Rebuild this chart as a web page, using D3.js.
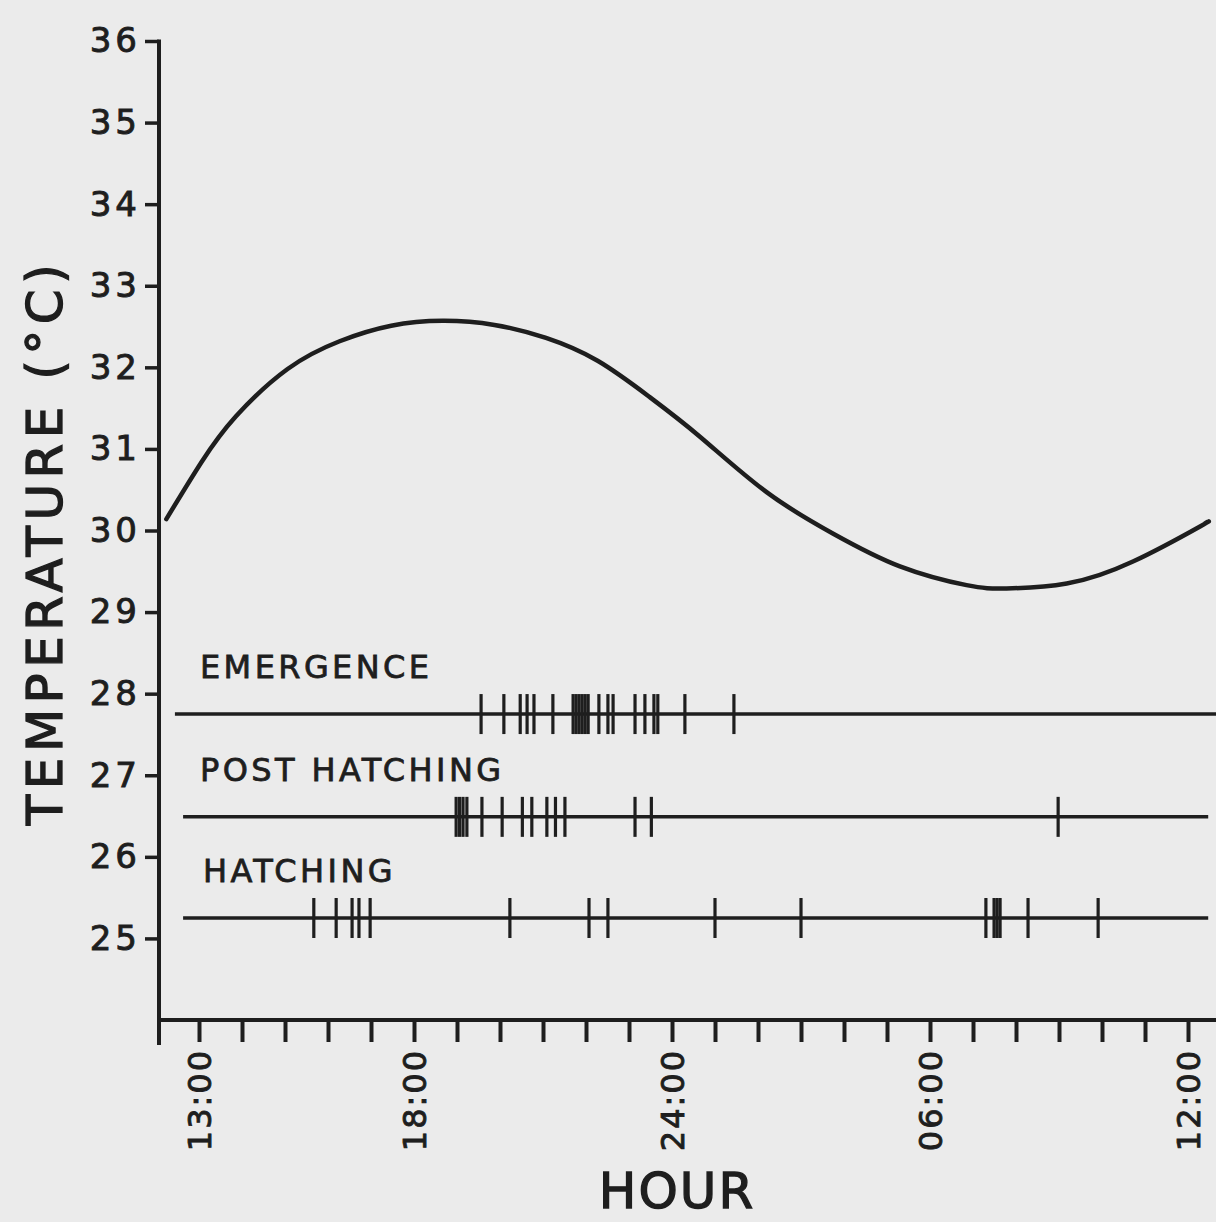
<!DOCTYPE html>
<html>
<head>
<meta charset="utf-8">
<script src="https://cdn.jsdelivr.net/npm/d3@7"></script>
<style>
  html, body { margin: 0; padding: 0; background: #ebebeb; }
  svg { display: block; }
  text { font-family: "DejaVu Sans", sans-serif; fill: #1e1e1e; stroke: #1e1e1e; }
</style>
</head>
<body>
<div id="chart"></div>
<script>
// temperature curve (hours counted from noon, 24 = midnight)
const curveHours = [12.24, 13.06, 13.86, 15.06, 16.27, 17.47, 18.67, 19.87, 21.07, 22.27,
  23.47, 24.65, 26.20, 27.75, 29.30, 30.85, 31.78, 33.18, 34.72, 36.28, 36.40];
const curveTemps = [30.14, 30.84, 31.40, 31.98, 32.32, 32.51, 32.57, 32.52, 32.36, 32.08,
  31.64, 31.15, 30.47, 29.96, 29.56, 29.33, 29.29, 29.35, 29.62, 30.05, 30.09];

// event rows
const rowNames = ["EMERGENCE", "POST HATCHING", "HATCHING"];
const rowLevels = [27.75, 26.49, 25.25];
const rowStart = [12.44, 12.63, 12.63];
const rowEnd = [36.7, 36.47, 36.47];
const emergenceHours = [19.56, 20.09, 20.47, 20.63, 20.79, 21.23, 21.70, 21.77, 21.84, 21.91,
  21.98, 22.05, 22.30, 22.51, 22.63, 23.14, 23.37, 23.58, 23.67, 24.30, 25.44];
const postHatchingHours = [18.98, 19.06, 19.14, 19.23, 19.58, 20.05, 20.52, 20.74, 21.09,
  21.29, 21.51, 23.14, 23.52, 32.98];
const hatchingHours = [15.67, 16.19, 16.56, 16.72, 16.98, 20.23, 22.07, 22.51, 25.0, 27.0,
  31.30, 31.49, 31.56, 31.63, 32.28, 33.91];
const rowEvents = [emergenceHours, postHatchingHours, hatchingHours];

// axis ticks
const yTicks = d3.range(25, 37);
const xTicks = d3.range(13, 37);
const labelHours = [13, 18, 24, 30, 36];
const labelTexts = ["13:00", "18:00", "24:00", "06:00", "12:00"];

const width = 1216, height = 1222;
const axisX = 159, axisBottom = 1045;
const ink = "#1e1e1e";

var svg = d3.select("#chart").append("svg")
  .attr("width", width)
  .attr("height", height);

var x = d3.scaleLinear().domain([13, 36]).range([199, 1188]);
var y = d3.scaleLinear().domain([24, 36]).range([1020, 41]);

// y axis
var yAxis = svg.append("g")
  .attr("transform", "translate(" + axisX + ",0)")
  .call(d3.axisLeft(y).tickValues(yTicks).tickSize(14).tickPadding(4).tickSizeOuter(0));
yAxis.select(".domain").remove();
yAxis.selectAll(".tick line").attr("stroke", ink).attr("stroke-width", 3.5);
yAxis.selectAll(".tick text")
  .style("font-size", "34px")
  .style("letter-spacing", "4px")
  .attr("stroke-width", 0.9)
  .attr("fill", ink);
svg.append("line")
  .attr("x1", axisX).attr("x2", axisX)
  .attr("y1", y(36) - 1.5).attr("y2", axisBottom)
  .attr("stroke", ink).attr("stroke-width", 4);

// x axis
var xAxis = svg.append("g")
  .attr("transform", "translate(0," + y(24) + ")")
  .call(d3.axisBottom(x).tickValues(xTicks).tickSize(22).tickSizeOuter(0)
    .tickFormat(h => {
      const i = labelHours.indexOf(h);
      return i >= 0 ? labelTexts[i] : "";
    }));
xAxis.select(".domain").remove();
xAxis.selectAll(".tick line").attr("stroke", ink).attr("stroke-width", 4);
xAxis.selectAll(".tick text")
  .attr("transform", "rotate(-90)")
  .attr("text-anchor", "end")
  .attr("x", -29)
  .attr("y", 0)
  .attr("dy", "0.36em")
  .style("font-size", "32px")
  .style("letter-spacing", "2px")
  .attr("stroke-width", 0.9)
  .attr("fill", ink);
svg.append("line")
  .attr("x1", axisX - 2).attr("x2", width)
  .attr("y1", y(24)).attr("y2", y(24))
  .attr("stroke", ink).attr("stroke-width", 4);

// temperature curve
var line = d3.line()
  .x(d => x(d[0]))
  .y(d => y(d[1]))
  .curve(d3.curveNatural);
svg.append("path")
  .datum(curveHours.map((h, i) => [h, curveTemps[i]]))
  .attr("d", line)
  .attr("fill", "none")
  .attr("stroke", ink)
  .attr("stroke-width", 4.5)
  .attr("stroke-linecap", "round");

// event rows
rowNames.forEach((name, r) => {
  const g = svg.append("g");
  const ly = y(rowLevels[r]);
  g.append("line")
    .attr("x1", x(rowStart[r])).attr("x2", x(rowEnd[r]))
    .attr("y1", ly).attr("y2", ly)
    .attr("stroke", ink).attr("stroke-width", 3.5);
  g.selectAll("line.ev")
    .data(rowEvents[r])
    .enter().append("line")
    .attr("class", "ev")
    .attr("x1", d => x(d)).attr("x2", d => x(d))
    .attr("y1", ly - 20).attr("y2", ly + 20)
    .attr("stroke", ink).attr("stroke-width", 3.2);
  g.append("text")
    .attr("x", r === 2 ? 203 : 200)
    .attr("y", ly - 36)
    .style("font-size", "32px")
    .style("letter-spacing", "3.4px")
    .attr("stroke-width", 0.8)
    .text(name);
});

// axis titles
svg.append("text")
  .attr("transform", "translate(62,542) rotate(-90)")
  .attr("text-anchor", "middle")
  .style("font-size", "50px")
  .style("letter-spacing", "5.5px")
  .attr("stroke-width", 1.3)
  .text("TEMPERATURE (°C)");

svg.append("text")
  .attr("x", 677)
  .attr("y", 1208)
  .attr("text-anchor", "middle")
  .style("font-size", "50px")
  .style("letter-spacing", "2px")
  .attr("stroke-width", 1.3)
  .text("HOUR");
</script>
</body>
</html>
